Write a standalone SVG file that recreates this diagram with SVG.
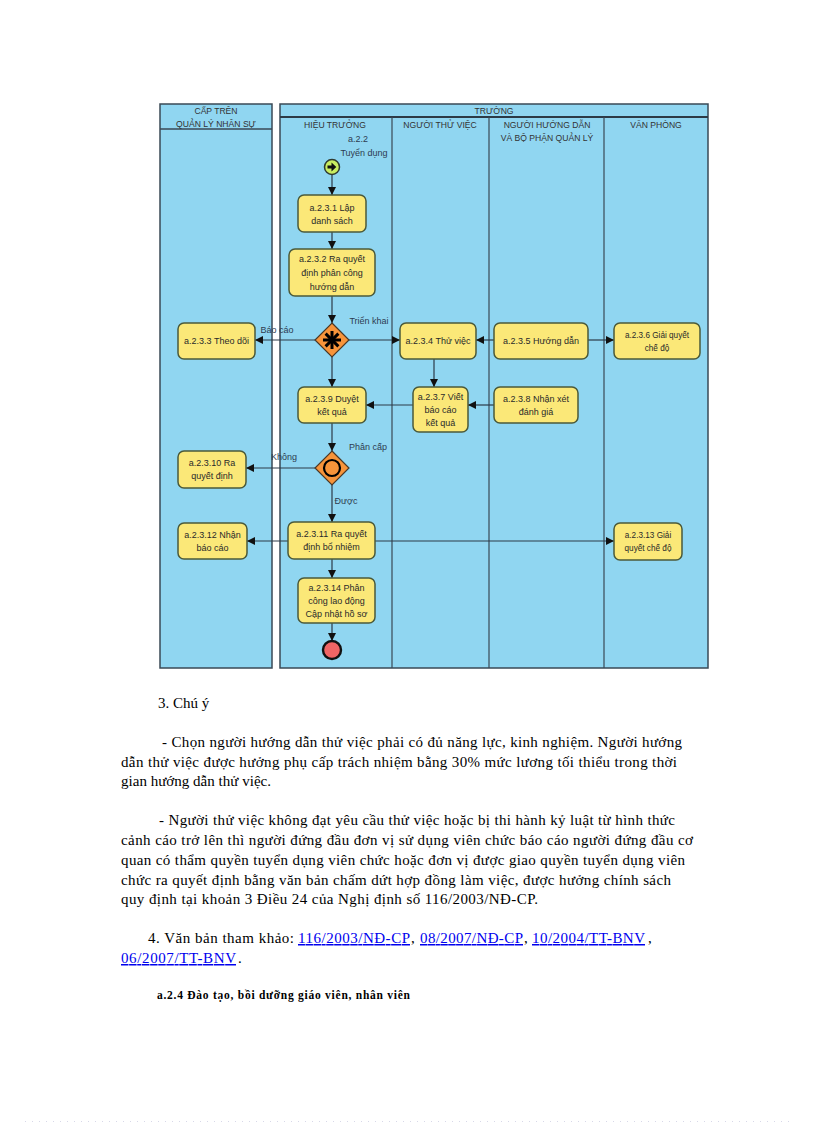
<svg xmlns="http://www.w3.org/2000/svg" width="816" height="1123" viewBox="0 0 816 1123">
<defs>
<style>
.pool{fill:#90d6f1;stroke:#3a4956;stroke-width:1.5}
.lane{stroke:#3a4956;stroke-width:1.2;fill:none}
.hdr{font-family:"Liberation Sans",Arial,sans-serif;font-size:8.6px;fill:#333;text-anchor:middle}
.box{fill:#fbe878;stroke:#4b5a3a;stroke-width:1.5}
.t{font-family:"Liberation Sans",Arial,sans-serif;font-size:9px;fill:#2a2a2a;text-anchor:middle}
.ts{font-family:"Liberation Sans",Arial,sans-serif;font-size:8.2px;fill:#2a2a2a;text-anchor:middle}
.lbl{font-family:"Liberation Sans",Arial,sans-serif;font-size:9px;fill:#2e3b50;text-anchor:middle}
.con{stroke:#2c3a48;stroke-width:1.2;fill:none;marker-end:url(#ah)}
.body{font-family:"Liberation Serif","Times New Roman",serif;font-size:15px;fill:#000}
.head{font-family:"Liberation Serif","Times New Roman",serif;font-size:11.5px;font-weight:bold;fill:#000}
.link{font-family:"Liberation Serif","Times New Roman",serif;font-size:15px;fill:#0000ee;text-decoration:underline}
.gw{fill:#f7943a;stroke:#4a3826;stroke-width:1.2}
</style>
<marker id="ah" markerWidth="8" markerHeight="8" refX="8" refY="4" orient="auto" markerUnits="userSpaceOnUse">
<path d="M0,0 L8,4 L0,8 z" fill="#111"/>
</marker>
</defs>
<rect width="816" height="1123" fill="#fff"/>

<g id="pool-cap-tren">
<rect class="pool" x="160" y="104" width="112" height="564"/>
<line x1="160" y1="129" x2="272" y2="129" stroke="#3a4956" stroke-width="1.6"/>
<text class="hdr" x="216" y="114">CẤP TRÊN</text>
<text class="hdr" x="216" y="127">QUẢN LÝ NHÂN SỰ</text>
</g>

<g id="pool-truong">
<rect class="pool" x="280" y="104" width="428" height="564"/>
<line x1="280" y1="117" x2="708" y2="117" stroke="#2c3a46" stroke-width="2"/>
<text class="hdr" x="494" y="114">TRƯỜNG</text>
<line class="lane" x1="392" y1="117" x2="392" y2="668"/>
<line class="lane" x1="489" y1="117" x2="489" y2="668"/>
<line class="lane" x1="604" y1="117" x2="604" y2="668"/>
<text class="hdr" x="335" y="128">HIỆU TRƯỞNG</text>
<text class="hdr" x="440" y="128">NGƯỜI THỬ VIỆC</text>
<text class="hdr" x="547" y="128">NGƯỜI HƯỚNG DẪN</text>
<text class="hdr" x="547" y="141">VÀ BỘ PHẬN QUẢN LÝ</text>
<text class="hdr" x="656" y="128">VĂN PHÒNG</text>
</g>

<g id="connectors">
<line class="con" x1="332" y1="175" x2="332" y2="195"/>
<line class="con" x1="332" y1="232" x2="332" y2="249"/>
<line class="con" x1="332" y1="296" x2="332" y2="323"/>
<line class="con" x1="315" y1="340" x2="255" y2="340"/>
<line class="con" x1="349" y1="340" x2="400" y2="340"/>
<line class="con" x1="494" y1="340" x2="476" y2="340"/>
<line class="con" x1="588" y1="340" x2="614" y2="340"/>
<line class="con" x1="434" y1="359" x2="434" y2="387"/>
<line class="con" x1="494" y1="405" x2="468" y2="405"/>
<line class="con" x1="413" y1="405" x2="366" y2="405"/>
<line class="con" x1="332" y1="357" x2="332" y2="387"/>
<line class="con" x1="332" y1="423" x2="332" y2="451"/>
<line class="con" x1="315" y1="468" x2="246" y2="468"/>
<line class="con" x1="332" y1="485" x2="332" y2="522"/>
<line class="con" x1="288" y1="541" x2="247" y2="541"/>
<line class="con" x1="375" y1="541" x2="614" y2="541"/>
<line class="con" x1="332" y1="559" x2="332" y2="578"/>
<line class="con" x1="332" y1="623" x2="332" y2="641"/>
<text class="lbl" x="277" y="333">Báo cáo</text>
<text class="lbl" x="369" y="324">Triển khai</text>
<text class="lbl" x="368" y="450">Phân cấp</text>
<text class="lbl" x="284" y="460">Không</text>
<text class="lbl" x="346" y="504">Được</text>
</g>

<g id="start">
<text class="lbl" x="358" y="142">a.2.2</text>
<text class="lbl" x="364" y="156">Tuyển dụng</text>
<circle cx="332" cy="167" r="7.5" fill="#c9ee62" stroke="#2f3a30" stroke-width="1.5"/>
<path d="M327.5,165.6 h4 v-3 l4.8,4.4 l-4.8,4.4 v-3 h-4 z" fill="#111"/>
</g>

<g id="n231"><rect class="box" x="298" y="195" width="68" height="37" rx="6"/><text class="t" x="332" y="211">a.2.3.1 Lập</text><text class="t" x="332" y="224">danh sách</text></g>
<g id="n232"><rect class="box" x="289" y="249" width="86" height="47" rx="6"/><text class="t" x="332" y="262">a.2.3.2 Ra quyết</text><text class="t" x="332" y="276">định phân công</text><text class="t" x="332" y="290">hướng dẫn</text></g>

<g id="gw1">
<polygon class="gw" points="332,323 349,340 332,357 315,340"/>
<g stroke="#000" stroke-width="3" stroke-linecap="butt">
<line x1="332" y1="331" x2="332" y2="349"/>
<line x1="323" y1="340" x2="341" y2="340"/>
<line x1="325.6" y1="333.6" x2="338.4" y2="346.4"/>
<line x1="338.4" y1="333.6" x2="325.6" y2="346.4"/>
</g>
</g>

<g id="n233"><rect class="box" x="178" y="323" width="77" height="36" rx="6"/><text class="t" x="216.5" y="344">a.2.3.3 Theo dõi</text></g>
<g id="n234"><rect class="box" x="400" y="323" width="76" height="36" rx="6"/><text class="t" x="438" y="344">a.2.3.4 Thử việc</text></g>
<g id="n235"><rect class="box" x="494" y="323" width="94" height="36" rx="6"/><text class="t" x="541" y="344">a.2.3.5 Hướng dẫn</text></g>
<g id="n236"><rect class="box" x="614" y="323" width="86" height="36" rx="6"/><text class="ts" x="657" y="338">a.2.3.6 Giải quyết</text><text class="ts" x="657" y="351">chế độ</text></g>
<g id="n237"><rect class="box" x="413" y="387" width="55" height="45" rx="6"/><text class="t" x="440.5" y="400">a.2.3.7 Viết</text><text class="t" x="440.5" y="413">báo cáo</text><text class="t" x="440.5" y="426">kết quả</text></g>
<g id="n238"><rect class="box" x="494" y="387" width="84" height="36" rx="6"/><text class="t" x="536" y="402">a.2.3.8 Nhận xét</text><text class="t" x="536" y="415">đánh giá</text></g>
<g id="n239"><rect class="box" x="298" y="387" width="68" height="36" rx="6"/><text class="t" x="332" y="402">a.2.3.9 Duyệt</text><text class="t" x="332" y="415">kết quả</text></g>

<g id="gw2">
<polygon class="gw" points="332,451 349,468 332,485 315,468"/>
<circle cx="332" cy="468" r="8" fill="none" stroke="#000" stroke-width="2.2"/>
</g>

<g id="n2310"><rect class="box" x="178" y="451" width="68" height="37" rx="6"/><text class="t" x="212" y="466">a.2.3.10 Ra</text><text class="t" x="212" y="479">quyết định</text></g>
<g id="n2311"><rect class="box" x="288" y="522" width="87" height="37" rx="6"/><text class="t" x="331.5" y="537">a.2.3.11 Ra quyết</text><text class="t" x="331.5" y="550">định bổ nhiệm</text></g>
<g id="n2312"><rect class="box" x="178" y="523" width="69" height="36" rx="6"/><text class="t" x="212.5" y="538">a.2.3.12 Nhận</text><text class="t" x="212.5" y="551">báo cáo</text></g>
<g id="n2313"><rect class="box" x="614" y="523" width="68" height="37" rx="6"/><text class="ts" x="648" y="538">a.2.3.13 Giải</text><text class="ts" x="648" y="551">quyết chế độ</text></g>
<g id="n2314"><rect class="box" x="298" y="578" width="77" height="45" rx="6"/><text class="t" x="336.5" y="591">a.2.3.14 Phân</text><text class="t" x="336.5" y="604">công lao động</text><text class="t" x="336.5" y="617">Cập nhật hồ sơ</text></g>

<g id="end"><circle cx="332" cy="650" r="9" fill="#f06565" stroke="#111" stroke-width="2.4"/></g>

<g id="text-body">
<text class="body" x="158" y="708">3. Chú ý</text>
<text class="body" x="162" y="747" textLength="520" lengthAdjust="spacing">- Chọn người hướng dẫn thử việc phải có đủ năng lực, kinh nghiệm.  Người hướng</text>
<text class="body" x="121" y="767" textLength="556" lengthAdjust="spacing">dẫn thử việc được hưởng phụ cấp trách nhiệm bằng 30% mức lương tối thiểu trong thời</text>
<text class="body" x="121" y="786" textLength="150" lengthAdjust="spacing">gian hướng dẫn thử việc.</text>
<text class="body" x="159" y="825" textLength="516" lengthAdjust="spacing">- Người thử việc không đạt yêu cầu thử việc hoặc bị thi hành kỷ luật từ hình thức</text>
<text class="body" x="121" y="845" textLength="572" lengthAdjust="spacing">cảnh cáo trở lên thì người đứng đầu đơn vị sử dụng viên chức báo cáo người đứng đầu cơ</text>
<text class="body" x="121" y="865" textLength="564" lengthAdjust="spacing">quan có thẩm quyền tuyển dụng viên chức hoặc đơn vị được giao quyền tuyển dụng viên</text>
<text class="body" x="121" y="885" textLength="550" lengthAdjust="spacing">chức ra quyết định bằng văn bản chấm dứt hợp đồng làm việc, được hưởng chính sách</text>
<text class="body" x="121" y="904" textLength="417" lengthAdjust="spacing">quy định tại khoản 3 Điều 24 của Nghị định số 116/2003/NĐ-CP.</text>
<text class="body" x="148" y="943" textLength="146" lengthAdjust="spacing">4. Văn bản tham khảo:</text>
<text class="link" x="298" y="943" textLength="112" lengthAdjust="spacing">116/2003/NĐ-CP</text>
<text class="body" x="411" y="943">,</text>
<text class="link" x="420" y="943" textLength="103" lengthAdjust="spacing">08/2007/NĐ-CP</text>
<text class="body" x="524" y="943">,</text>
<text class="link" x="532" y="943" textLength="113" lengthAdjust="spacing">10/2004/TT-BNV</text>
<text class="body" x="648" y="943">,</text>
<text class="link" x="121" y="963" textLength="115" lengthAdjust="spacing">06/2007/TT-BNV</text>
<text class="body" x="238" y="963">.</text>
<text class="head" x="157" y="999" textLength="253" lengthAdjust="spacing">a.2.4 Đào tạo, bồi dưỡng giáo viên, nhân viên</text>
</g>
<line x1="25" y1="1121.5" x2="790" y2="1121.5" stroke="#d8d8e8" stroke-width="1" stroke-dasharray="1 6"/>
</svg>
